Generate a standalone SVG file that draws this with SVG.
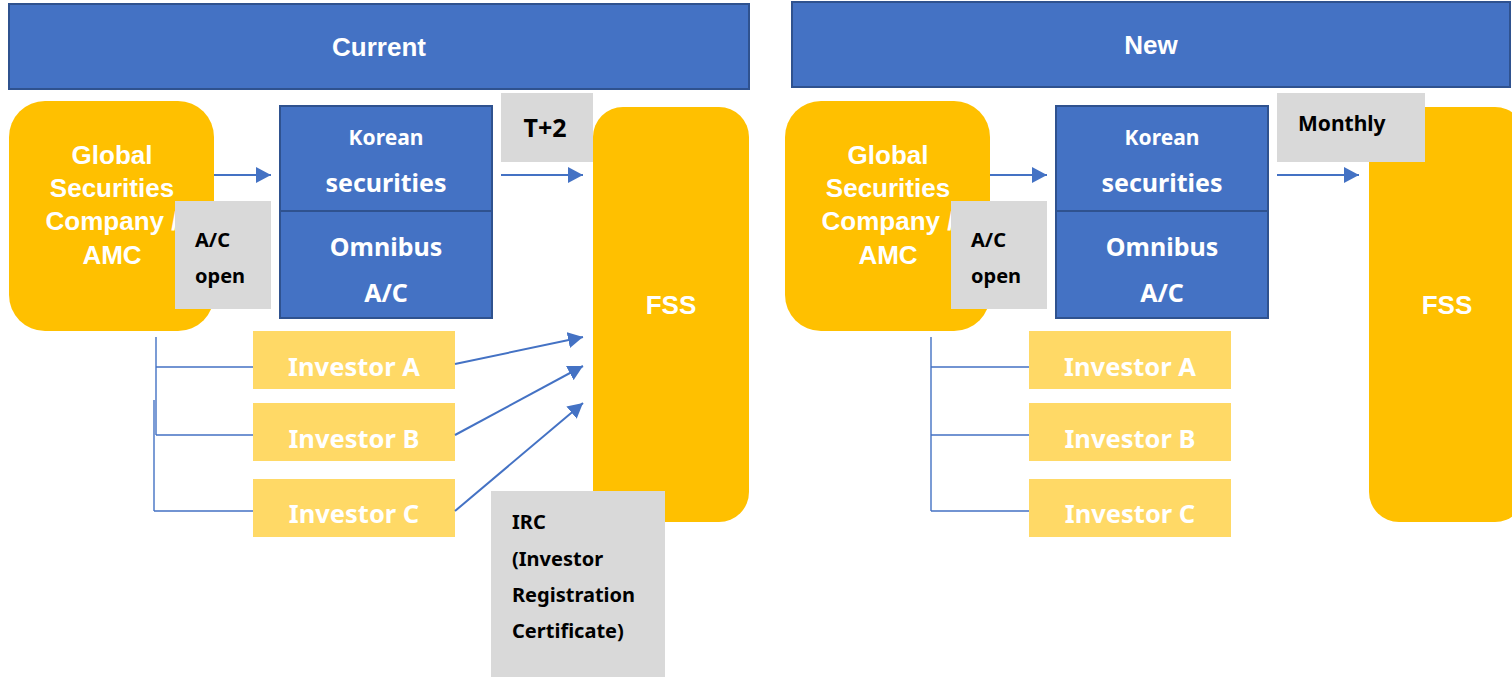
<svg xmlns="http://www.w3.org/2000/svg" width="1512" height="677" viewBox="0 0 1512 677">
  <defs>
    <marker id="arrow" markerUnits="userSpaceOnUse" markerWidth="16" markerHeight="16" refX="15" refY="8" orient="auto">
      <path d="M0,0 L15,8 L0,16 z" fill="#4472C4"/>
    </marker>
    <style>
      .header { fill: #4472C4; stroke: #2F528F; stroke-width: 2; }
      .title { font-family: "Liberation Sans", Arial, sans-serif; font-weight: bold; font-size: 26px; fill: #FFFFFF; text-anchor: middle; }
      .org { fill: #FFC000; }
      .blue { fill: #4472C4; stroke: #2F528F; stroke-width: 2; }
      .note { fill: #D9D9D9; }
      .inv { fill: #FFD966; }
      .wlab { font-family: "Noto Sans", "Open Sans", sans-serif; font-weight: bold; fill: #FFFFFF; text-anchor: middle; }
      .blab { font-family: "Noto Sans", "Open Sans", sans-serif; font-weight: bold; fill: #000000; font-size: 20px; }
      .flow { stroke: #4472C4; stroke-width: 2; fill: none; marker-end: url(#arrow); }
      .tree { stroke: #4472C4; stroke-width: 1.4; fill: none; }
    </style>
  </defs>

  <!-- Section headers -->
  <g id="header-current">
    <rect class="header" x="9" y="4" width="740" height="85"/>
    <text class="title" x="379" y="56">Current</text>
  </g>
  <g id="header-new">
    <rect class="header" x="792" y="2" width="718" height="85"/>
    <text class="title" x="1151" y="54">New</text>
  </g>

  <!-- ===== Current flow ===== -->
  <g id="cur-global">
    <rect class="org" x="9" y="101" width="205" height="230" rx="36" ry="36"/>
    <text class="title" x="112" y="164">Global</text>
    <text class="title" x="112" y="197">Securities</text>
    <text class="title" x="112" y="230">Company /</text>
    <text class="title" x="112" y="264">AMC</text>
  </g>
  <g id="cur-acopen">
    <rect class="note" x="175" y="201" width="96" height="108"/>
    <text class="blab" x="195" y="247">A/C</text>
    <text class="blab" x="195" y="283">open</text>
  </g>
  <g id="cur-korean">
    <rect class="blue" x="280" y="106" width="212" height="105"/>
    <rect class="blue" x="280" y="211" width="212" height="107"/>
    <text class="wlab" x="386" y="145" style="font-size:21px">Korean</text>
    <text class="wlab" x="386" y="192" style="font-size:25px">securities</text>
    <text class="wlab" x="386" y="256" style="font-size:25px">Omnibus</text>
    <text class="wlab" x="386" y="302" style="font-size:25px">A/C</text>
  </g>
  <g id="cur-t2">
    <rect class="note" x="501" y="93" width="92" height="69"/>
    <text class="blab" x="545" y="137" style="font-size:25px" text-anchor="middle">T+2</text>
  </g>
  <g id="cur-fss">
    <rect class="org" x="593" y="107" width="156" height="415" rx="30" ry="30"/>
    <text class="title" x="671" y="314">FSS</text>
  </g>
  <g id="cur-investor-a">
    <rect class="inv" x="253" y="331" width="202" height="58"/>
    <text class="wlab" x="354" y="376" style="font-size:25.5px">Investor A</text>
  </g>
  <g id="cur-investor-b">
    <rect class="inv" x="253" y="403" width="202" height="58"/>
    <text class="wlab" x="354" y="448" style="font-size:25.5px">Investor B</text>
  </g>
  <g id="cur-investor-c">
    <rect class="inv" x="253" y="479" width="202" height="58"/>
    <text class="wlab" x="354" y="523" style="font-size:25.5px">Investor C</text>
  </g>
  <g id="cur-irc">
    <rect class="note" x="491" y="491" width="174" height="186"/>
    <text class="blab" x="512" y="529">IRC</text>
    <text class="blab" x="512" y="566">(Investor</text>
    <text class="blab" x="512" y="602">Registration</text>
    <text class="blab" x="512" y="638">Certificate)</text>
  </g>

  <!-- ===== New flow ===== -->
  <g id="new-global">
    <rect class="org" x="785" y="101" width="205" height="230" rx="36" ry="36"/>
    <text class="title" x="888" y="164">Global</text>
    <text class="title" x="888" y="197">Securities</text>
    <text class="title" x="888" y="230">Company /</text>
    <text class="title" x="888" y="264">AMC</text>
  </g>
  <g id="new-acopen">
    <rect class="note" x="951" y="201" width="96" height="108"/>
    <text class="blab" x="971" y="247">A/C</text>
    <text class="blab" x="971" y="283">open</text>
  </g>
  <g id="new-korean">
    <rect class="blue" x="1056" y="106" width="212" height="105"/>
    <rect class="blue" x="1056" y="211" width="212" height="107"/>
    <text class="wlab" x="1162" y="145" style="font-size:21px">Korean</text>
    <text class="wlab" x="1162" y="192" style="font-size:25px">securities</text>
    <text class="wlab" x="1162" y="256" style="font-size:25px">Omnibus</text>
    <text class="wlab" x="1162" y="302" style="font-size:25px">A/C</text>
  </g>
  <g id="new-fss">
    <rect class="org" x="1369" y="107" width="156" height="415" rx="30" ry="30"/>
    <text class="title" x="1447" y="314">FSS</text>
  </g>
  <g id="new-monthly">
    <rect class="note" x="1277" y="93" width="148" height="69"/>
    <text class="blab" x="1298" y="131" style="font-size:21px">Monthly</text>
  </g>
  <g id="new-investor-a">
    <rect class="inv" x="1029" y="331" width="202" height="58"/>
    <text class="wlab" x="1130" y="376" style="font-size:25.5px">Investor A</text>
  </g>
  <g id="new-investor-b">
    <rect class="inv" x="1029" y="403" width="202" height="58"/>
    <text class="wlab" x="1130" y="448" style="font-size:25.5px">Investor B</text>
  </g>
  <g id="new-investor-c">
    <rect class="inv" x="1029" y="479" width="202" height="58"/>
    <text class="wlab" x="1130" y="523" style="font-size:25.5px">Investor C</text>
  </g>

  <!-- Connectors -->
  <g id="connectors">
    <!-- current -->
    <line class="flow" x1="214" y1="175" x2="271" y2="175"/>
    <line class="flow" x1="501" y1="175" x2="583" y2="175"/>
    <line class="flow" x1="455" y1="364" x2="583" y2="337"/>
    <line class="flow" x1="455" y1="435" x2="583" y2="366"/>
    <line class="flow" x1="455" y1="511" x2="583" y2="403"/>
    <path class="tree" d="M156,337 V435 M154,400 V511 M156,367 H253 M156,435 H253 M154,511 H253"/>
    <!-- new -->
    <line class="flow" x1="990" y1="175" x2="1047" y2="175"/>
    <line class="flow" x1="1277" y1="175" x2="1359" y2="175"/>
    <path class="tree" d="M931,337 V511 M931,367 H1029 M931,435 H1029 M931,511 H1029"/>
  </g>
</svg>
